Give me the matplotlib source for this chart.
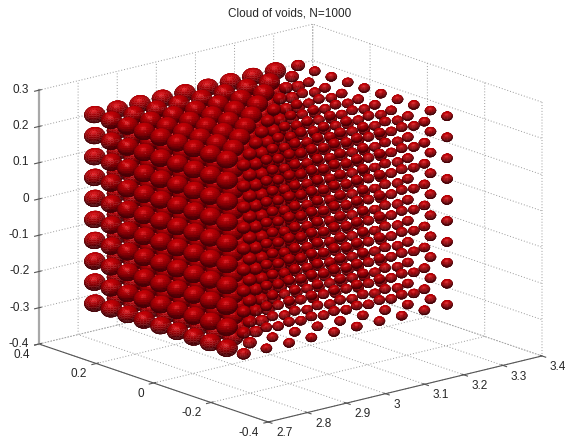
import numpy as np
import matplotlib
matplotlib.use("Agg")
import matplotlib.pyplot as plt
from mpl_toolkits.mplot3d.art3d import Poly3DCollection
from mpl_toolkits.mplot3d import proj3d

# ---- values ----
title = "Cloud of voids, N=1000"
x_centres = [2.74, 2.798, 2.856, 2.913, 2.971, 3.029, 3.087, 3.144, 3.202, 3.26]
y_centres = [-0.26, -0.202, -0.144, -0.087, -0.029, 0.029, 0.087, 0.144, 0.202, 0.26]
z_centres = [-0.26, -0.202, -0.144, -0.087, -0.029, 0.029, 0.087, 0.144, 0.202, 0.26]
radius_large = 0.0218      # y index above x index
radius_diagonal = 0.0140   # y index equal to x index
radius_small = 0.0116      # y index below x index
x_ticks = [2.7, 2.8, 2.9, 3.0, 3.1, 3.2, 3.3, 3.4]
x_ticklabels = ["2.7", "2.8", "2.9", "3", "3.1", "3.2", "3.3", "3.4"]
y_ticks = [-0.4, -0.2, 0, 0.2, 0.4]
y_ticklabels = ["-0.4", "-0.2", "0", "0.2", "0.4"]
z_ticks = [-0.4, -0.3, -0.2, -0.1, 0, 0.1, 0.2, 0.3]
z_ticklabels = ["-0.4", "-0.3", "-0.2", "-0.1", "0", "0.1", "0.2", "0.3"]
x_limits = (2.7, 3.4)
y_limits = (-0.4, 0.4)
z_limits = (-0.4, 0.3)

# ---- style ----
plt.rcParams["font.family"] = ["Liberation Sans", "DejaVu Sans"]
plt.rcParams["grid.linestyle"] = (0, (1, 2))
plt.rcParams["grid.color"] = "#9a9a9a"
plt.rcParams["grid.linewidth"] = 0.7
ELEV, AZIM = 16.65, -130.1
TEXT = "#262626"

fig = plt.figure(figsize=(5.68, 4.42), dpi=100)
W, H = 568.0, 442.0
ax = fig.add_axes([0.1, 0.1, 0.7, 0.7 * W / H], projection="3d", proj_type="ortho")
ax.view_init(elev=ELEV, azim=AZIM)
ax.set_box_aspect((358, 356, 265))
ax.set_xlim(*x_limits)
ax.set_ylim(*y_limits)
ax.set_zlim(*z_limits)

# ---- sphere shading ----
az, el = np.radians(AZIM), np.radians(ELEV)
right = np.array([-np.sin(az), np.cos(az), 0.0])
up = np.array([-np.cos(az) * np.sin(el), -np.sin(az) * np.sin(el), np.cos(el)])
toward = np.array([np.cos(az) * np.cos(el), np.sin(az) * np.cos(el), np.sin(el)])
light = -0.10 * right + 0.72 * up + 0.68 * toward
light /= np.linalg.norm(light)
half = light + toward
half /= np.linalg.norm(half)

NU, NV = 22, 14
u = np.linspace(0, 2 * np.pi, NU + 1)
v = np.linspace(0, np.pi, NV + 1)
sx = np.outer(np.cos(u), np.sin(v))
sy = np.outer(np.sin(u), np.sin(v))
sz = np.outer(np.ones_like(u), np.cos(v))
unit = np.stack([sx, sy, sz], axis=-1)
quads = np.stack([unit[:-1, :-1], unit[1:, :-1], unit[1:, 1:], unit[:-1, 1:]], axis=2)
normals = quads.mean(axis=2).reshape(-1, 3)
normals /= np.linalg.norm(normals, axis=1, keepdims=True)
quads = quads.reshape(-1, 4, 3)
keep = normals @ toward > -0.05
quads, normals = quads[keep], normals[keep]
diff = np.clip(normals @ light, 0, 1)
spec = np.clip(normals @ half, 0, 1) ** 30
face_rgb = np.stack([
    np.clip(0.28 + 0.50 * diff + 0.16 * spec, 0, 1),
    np.clip(0.00 + 0.16 * spec, 0, 1),
    np.clip(0.02 + 0.16 * spec, 0, 1),
], axis=1)

verts, colors = [], []
for i, xc in enumerate(x_centres):
    for j, yc in enumerate(y_centres):
        r = radius_large if j > i else (radius_diagonal if j == i else radius_small)
        for zc in z_centres:
            verts.append(quads * r + np.array([xc, yc, zc]))
            colors.append(face_rgb)
verts = np.concatenate(verts)
colors = np.concatenate(colors)
col = Poly3DCollection(verts, facecolors=colors, edgecolors=colors, linewidths=0.2)
ax.add_collection3d(col)
ax.set_xlim(*x_limits)
ax.set_ylim(*y_limits)
ax.set_zlim(*z_limits)

# ---- axes ----
ax.set_xticks(x_ticks, x_ticklabels)
ax.set_yticks(y_ticks, y_ticklabels)
ax.set_zticks(z_ticks, z_ticklabels)
ax.zaxis.set_ticks_position("upper")
ax.tick_params(labelsize=8.5, labelcolor=TEXT, color="#555555", width=0.7)
ax.tick_params(axis="x", pad=-1)
ax.tick_params(axis="y", pad=-1)
ax.tick_params(axis="z", pad=-4)
for t in ax.xaxis.get_ticklabels():
    t.set_va("center")
    t.set_ha("left")
for t in ax.yaxis.get_ticklabels():
    t.set_va("center")
    t.set_ha("right")
for t in ax.zaxis.get_ticklabels():
    t.set_ha("right")
    t.set_va("center")
for axis in (ax.xaxis, ax.yaxis, ax.zaxis):
    axis.set_pane_color((1, 1, 1, 0))
    axis.pane.set_edgecolor("none")
    axis.line.set_color("#555555")
    axis.line.set_linewidth(0.8)
ax.zaxis.line.set_color("#a8a8a8")
ax.zaxis.line.set_linewidth(1.6)
ax.patch.set_alpha(0)

# ---- place the box so its corners land where the reference has them ----
ax.apply_aspect()
M = ax.get_proj()
def to_px(x, y, z):
    X, Y, _ = proj3d.proj_transform(x, y, z, M)
    p = ax.transData.transform((X, Y))
    return p[0], H - p[1]
left = to_px(x_limits[0], y_limits[1], z_limits[0])
rgt = to_px(x_limits[1], y_limits[0], z_limits[0])
target_left, target_right = (39.0, 344.0), (542.0, 356.0)
scale = (target_right[0] - target_left[0]) / (rgt[0] - left[0])
pos = ax.get_position(original=False)
size_px = pos.width * W * scale
centre_x = target_left[0] + (pos.x0 * W + pos.width * W / 2 - left[0]) * scale
centre_y = target_left[1] + ((H - pos.y0 * H - pos.height * H / 2) - left[1]) * scale
ax.set_position([(centre_x - size_px / 2) / W, (H - centre_y - size_px / 2) / H,
                 size_px / W, size_px / H])

fig.text(289.5 / W, 1 - 13.5 / H, title, ha="center", va="center", fontsize=8.5, color=TEXT)
fig.savefig("out.png", dpi=100, facecolor="white")
